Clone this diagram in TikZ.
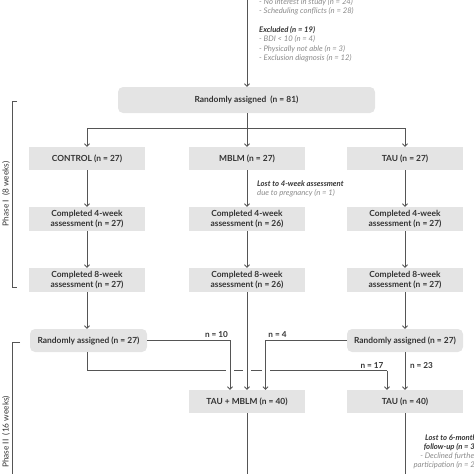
\documentclass[tikz,border=0pt]{standalone}
\usepackage{fontspec}
\setmainfont{Lato}
\usetikzlibrary{arrows.meta}
\definecolor{boxfill}{HTML}{E4E4E4}
\definecolor{txt}{HTML}{333333}
\definecolor{lne}{HTML}{555555}
\definecolor{note}{HTML}{8A8A8A}
\tikzset{
  box/.style={fill=boxfill, draw=none, minimum width=116pt, minimum height=23pt, inner sep=1pt,
    font=\fontsize{8.4}{9.6}\selectfont\bfseries, text=txt, align=center},
  rbox/.style={box, rounded corners=5pt},
  conn/.style={draw=lne, line width=0.8pt},
  arr/.style={conn, -{Straight Barb[length=2.5pt,width=5pt]}},
  nlab/.style={font=\fontsize{8.2}{9}\selectfont\bfseries, text=txt, inner sep=0pt},
  notetxt/.style={font=\fontsize{7.7}{9}\selectfont\itshape, text=note, align=left, inner sep=0pt},
  phase/.style={font=\fontsize{8.3}{9}\selectfont, text=txt, rotate=90, inner sep=0pt}
}
\begin{document}
\begin{tikzpicture}[x=1pt,y=-1pt]
\useasboundingbox (0,0) rectangle (474,474);
\clip (0,0) rectangle (474,474);
% top note
\node[notetxt, font=\fontsize{7.7}{9.4}\selectfont\itshape, anchor=north west] (excl) at (259,-2) {%
- No interest in study (n = 24)\\
- Scheduling conflicts (n = 28)\\[9.5pt]
{\color{txt}\bfseries\itshape Excluded (n = 19)}\\
- BDI < 10 (n = 4)\\
- Physically not able (n = 3)\\
- Exclusion diagnosis (n = 12)};
% boxes
\node[rbox, minimum width=257pt, minimum height=26pt] (r81) at (246.5,100) {Randomly assigned~ (n = 81)};
\node[box] (ctrl) at (87,158.5) {CONTROL (n = 27)};
\node[box] (mblm) at (247,158.5) {MBLM (n = 27)};
\node[box] (tau) at (405,158.5) {TAU (n = 27)};
\node[box, minimum height=24pt] (c4) at (87,219) {Completed 4-week\\assessment (n = 27)};
\node[box, minimum height=24pt] (m4) at (247,219) {Completed 4-week\\assessment (n = 26)};
\node[box, minimum height=24pt] (t4) at (405,219) {Completed 4-week\\assessment (n = 27)};
\node[box, minimum height=24pt] (c8) at (87,280) {Completed 8-week\\assessment (n = 27)};
\node[box, minimum height=24pt] (m8) at (247,280) {Completed 8-week\\assessment (n = 26)};
\node[box, minimum height=24pt] (t8) at (405,280) {Completed 8-week\\assessment (n = 27)};
\node[rbox, minimum width=117pt] (rl) at (88.5,340.5) {Randomly assigned (n = 27)};
\node[rbox] (rr) at (405,340.5) {Randomly assigned (n = 27)};
\node[box] (tm) at (247,401.5) {TAU + MBLM (n = 40)};
\node[box] (tt) at (405,401.5) {TAU (n = 40)};
% top connector
\coordinate (top) at (247,-2);
\draw[arr] (top) -- (r81.north -| top);
% split
\draw[arr] (r81.south -| mblm) -- (mblm.north);
\draw[arr] (r81.south -| mblm) -- ++(0,15) -| (ctrl.north);
\draw[arr] (r81.south -| mblm) -- ++(0,15) -| (tau.north);
% columns
\draw[arr] (ctrl) -- (c4);
\draw[arr] (c4) -- (c8);
\draw[arr] (c8.south) -- (rl.north -| c8.south);
\draw[arr] (mblm) -- (m4);
\draw[arr] (m4) -- (m8);
\draw[arr] (tau) -- (t4);
\draw[arr] (t4) -- (t8);
\draw[arr] (t8) -- (rr);
\node[notetxt, anchor=west] (lost4) at (257,188.5) {{\color{txt}\bfseries\itshape Lost to 4-week assessment}\\due to pregnancy (n = 1)};
% phase II crossings
\coordinate (cross) at (0,370.5);
\draw[conn] (rl.south -| c8.south) -- (c8.south |- cross) -- ([xshift=-18pt]tt.north |- cross);
\draw[arr] ([xshift=-18pt]tt.north |- cross) -- ([xshift=-18pt]tt.north);
\foreach \gx in {229.5,247,265.5}{
  \fill[white] (\gx-4,368) rectangle (\gx+4,373);
}
\draw[arr] (rl.east) -| ([xshift=-17pt]tm.north);
\draw[arr] (m8) -- (tm);
\draw[arr] (rr.west) -| ([xshift=18.5pt]tm.north);
\draw[arr] (rr) -- (tt);
\node[nlab] (n10) at (216.5,335) {n = 10};
\node[nlab] (n4) at (277.5,335) {n = 4};
\node[nlab] (n17) at (372,366) {n = 17};
\node[nlab] (n23) at (421.5,366) {n = 23};
% bottom lines
\coordinate (bm) at (247,480);
\coordinate (bt) at (405,480);
\draw[conn] (tm.south) -- (bm);
\draw[conn] (tt.south) -- (bt);
\node[notetxt, align=right, anchor=north east] (lost6) at (477,435) {{\color{txt}\bfseries\itshape Lost to 6-month}\\{\color{txt}\bfseries\itshape follow-up (n = 3)}\\- Declined further\\participation (n = 2)};
% phase brackets
\coordinate (p1a) at (17,101);
\coordinate (p1b) at (17,287);
\draw[conn] (p1a) -- ++(-4.5,0) -- ([xshift=-4.5pt]p1b) -- (p1b);
\node[phase] (ph1) at (6,194) {Phase I~ (8 weeks)};
\coordinate (p2a) at (20,342);
\coordinate (p2b) at (12.5,480);
\draw[conn] (p2a) -- (p2a -| p2b) -- (p2b);
\node[phase] (ph2) at (6,432) {Phase II~ (16 weeks)};
\end{tikzpicture}
\end{document}
